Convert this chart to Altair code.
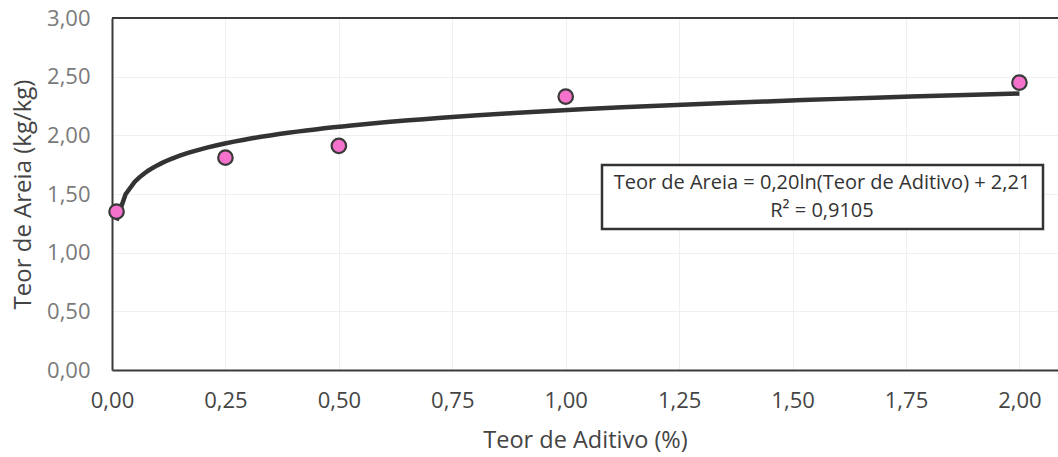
import altair as alt
import pandas as pd

# Data
aditivo = [0.01, 0.25, 0.50, 1.00, 2.00]
areia = [1.35, 1.81, 1.91, 2.33, 2.45]
eq_line1 = "Teor de Areia = 0,20ln(Teor de Aditivo) + 2,21"
eq_line2 = "R² = 0,9105"
x_ticks = [0, 0.25, 0.5, 0.75, 1.0, 1.25, 1.5, 1.75, 2.0]
y_ticks = [0, 0.5, 1.0, 1.5, 2.0, 2.5, 3.0]

df = pd.DataFrame({"x": aditivo, "y": areia})

FONT = "Open Sans"
W, H = 946, 352
fmt = "replace(format(datum.value, '.2f'), '.', ',')"

x_enc = alt.X(
    "x:Q",
    scale=alt.Scale(domain=[0, 2.085], nice=False, zero=False),
    axis=alt.Axis(
        values=x_ticks, labelExpr=fmt, ticks=False, labelPadding=20,
        labelFontSize=22, labelColor="#454545", labelFont=FONT,
        title="Teor de Aditivo (%)", titleFontSize=23.5, titleFont=FONT,
        titleFontWeight="normal", titleColor="#444444", titlePadding=17,
        domainColor="#3a3a3a", domainWidth=2,
        grid=True, gridColor="#efefef", gridWidth=1,
        labelFlush=False,
    ),
)
y_enc = alt.Y(
    "y:Q",
    scale=alt.Scale(domain=[0, 3], nice=False),
    axis=alt.Axis(
        values=y_ticks, labelExpr=fmt, ticks=False, labelPadding=22,
        labelFontSize=22, labelColor="#7a7a7a", labelFont=FONT,
        title="Teor de Areia (kg/kg)", titleFontSize=24, titleFont=FONT,
        titleFontWeight="normal", titleColor="#444444",
        titleX=-82, titleBaseline="alphabetic",
        domainColor="#3a3a3a", domainWidth=2,
        grid=True, gridColor="#efefef", gridWidth=1,
        labelFlush=False,
    ),
)

base = alt.Chart(df)

trend = base.transform_regression(
    "x", "y", method="log", extent=[0.01, 2.0]
).mark_line(color="#333333", strokeWidth=4.5).encode(x=x_enc, y=y_enc)

points = base.mark_point(
    filled=True, fill="#f472cc", stroke="#3a3a3a", strokeWidth=2.2,
    size=210, opacity=1, fillOpacity=1,
).encode(x="x:Q", y="y:Q")

top_border = alt.Chart(pd.DataFrame({"a": [0]})).mark_rule(
    color="#3a3a3a", strokeWidth=2
).encode(x=alt.value(0), x2=alt.value(W), y=alt.value(0))

box = alt.Chart(pd.DataFrame({"a": [0]})).mark_rect(
    fill="white", stroke="#333333", strokeWidth=2.5
).encode(x=alt.value(490), x2=alt.value(931), y=alt.value(147), y2=alt.value(211))

txt1 = alt.Chart(pd.DataFrame({"t": [eq_line1]})).mark_text(
    font=FONT, fontSize=20, color="#333333", align="center", baseline="middle"
).encode(text="t:N", x=alt.value(710), y=alt.value(165))

txt2 = alt.Chart(pd.DataFrame({"t": [eq_line2]})).mark_text(
    font=FONT, fontSize=20, color="#333333", align="center", baseline="middle"
).encode(text="t:N", x=alt.value(710), y=alt.value(193))

chart = alt.layer(trend, points, top_border, box, txt1, txt2).properties(
    width=W, height=H,
    autosize=alt.AutoSizeParams(type="none"),
    padding={"left": 112, "top": 18, "right": 0, "bottom": 87},
    background="white",
).configure_view(stroke=None)

chart.save("out.html", embed_options={"renderer": "svg", "actions": False})
